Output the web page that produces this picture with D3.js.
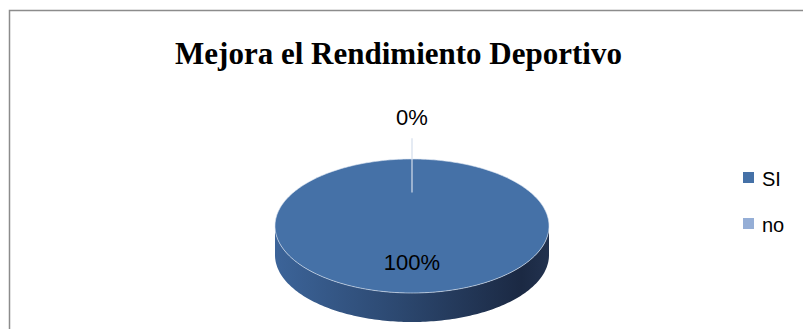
<!DOCTYPE html>
<html>
<head>
<meta charset="utf-8">
<script src="https://cdn.jsdelivr.net/npm/d3@7"></script>
<style>
  html, body { margin: 0; padding: 0; background: #fff; }
  svg { display: block; }
</style>
</head>
<body>
<svg id="chart" width="803" height="329"></svg>
<script>
// Survey answers and their shares (percent)
const categories = ["SI", "no"];
const values = [100, 0];
const sliceColors = ["#4571A7", "#95AED6"];
const titleText = "Mejora el Rendimiento Deportivo";

const svg = d3.select("#chart");
const W = 803, H = 329;

// Chart frame (its right and bottom edges fall outside the window)
svg.append("rect")
  .attr("x", 9.5).attr("y", 10.5)
  .attr("width", W + 20).attr("height", H + 20)
  .attr("fill", "#fff").attr("stroke", "#8c8c8c").attr("stroke-width", 1.5);

// Title
svg.append("text")
  .attr("x", 398.5).attr("y", 64)
  .attr("text-anchor", "middle")
  .attr("font-family", "'Liberation Serif', 'Times New Roman', serif")
  .attr("font-weight", "bold")
  .attr("font-size", 31)
  .attr("fill", "#000")
  .text(titleText);

// 3D pie geometry
const cx = 412, cy = 226, rx = 137, ry = 67, depth = 29;
const pie = d3.pie().sort(null).value(d => d)(values);

const px = a => cx + rx * Math.sin(a);
const py = (a, dy = 0) => cy - ry * Math.cos(a) + dy;

const defs = svg.append("defs");
const grad = defs.append("linearGradient")
  .attr("id", "sideGrad")
  .attr("gradientUnits", "userSpaceOnUse")
  .attr("x1", cx - rx).attr("x2", cx + rx).attr("y1", 0).attr("y2", 0);
grad.append("stop").attr("offset", "0%").attr("stop-color", "#3C6499");
grad.append("stop").attr("offset", "45%").attr("stop-color", "#2C4870");
grad.append("stop").attr("offset", "90%").attr("stop-color", "#1B2943");
grad.append("stop").attr("offset", "100%").attr("stop-color", "#22324F");

function arcPoints(a0, a1, dy = 0) {
  const n = Math.max(2, Math.ceil((a1 - a0) / 0.02));
  const pts = [];
  for (let i = 0; i <= n; i++) {
    const a = a0 + (a1 - a0) * i / n;
    pts.push([px(a), py(a, dy)]);
  }
  return pts;
}

// Side walls: the front half of each slice rim, extruded downward
const g = svg.append("g");
pie.forEach((d, i) => {
  const s = Math.max(d.startAngle, Math.PI / 2);
  const e = Math.min(d.endAngle, 3 * Math.PI / 2);
  if (e <= s) return;
  const top = arcPoints(s, e);
  const bottom = arcPoints(s, e, depth).reverse();
  const pts = top.concat(bottom);
  g.append("path")
    .attr("d", "M" + pts.map(p => p.join(",")).join("L") + "Z")
    .attr("fill", i === 0 ? "url(#sideGrad)" : d3.color(sliceColors[i]).darker(1.2));
});

// Top faces
pie.forEach((d, i) => {
  if (d.endAngle - d.startAngle <= 0) return;
  const full = d.endAngle - d.startAngle >= 2 * Math.PI - 1e-6;
  const pts = arcPoints(d.startAngle, d.endAngle);
  const path = full
    ? "M" + pts.map(p => p.join(",")).join("L") + "Z"
    : "M" + cx + "," + cy + "L" + pts.map(p => p.join(",")).join("L") + "Z";
  g.append("path")
    .attr("d", path)
    .attr("fill", sliceColors[i])
    .attr("stroke", "#dfe8f3").attr("stroke-opacity", 0.6).attr("stroke-width", 1);
});

// Percent labels; an empty slice gets a leader line from its label
pie.forEach((d, i) => {
  const mid = (d.startAngle + d.endAngle) / 2;
  if (d.data === 0) {
    g.append("line")
      .attr("x1", px(mid)).attr("x2", px(mid))
      .attr("y1", cy - ry * 1.31).attr("y2", cy - ry * 0.5)
      .attr("stroke", "#d4deec").attr("stroke-width", 1.2);
    g.append("text")
      .attr("x", px(mid)).attr("y", cy - ry * 1.51)
      .attr("text-anchor", "middle")
      .attr("font-family", "'Liberation Sans', Arial, sans-serif")
      .attr("font-size", 22).attr("fill", "#000")
      .text(d.data + "%");
  } else {
    const full = d.endAngle - d.startAngle >= 2 * Math.PI - 1e-6;
    const lx = full ? cx : cx + rx * 0.6 * Math.sin(mid);
    const ly = full ? cy + ry * 0.66 : cy - ry * 0.6 * Math.cos(mid);
    g.append("text")
      .attr("x", lx).attr("y", ly)
      .attr("text-anchor", "middle")
      .attr("font-family", "'Liberation Sans', Arial, sans-serif")
      .attr("font-size", 22).attr("fill", "#000")
      .text(d.data + "%");
  }
});

// Legend
const legend = svg.append("g").attr("transform", "translate(743,172)");
categories.forEach((c, i) => {
  const row = legend.append("g").attr("transform", `translate(0,${i * 46})`);
  row.append("rect")
    .attr("x", 0).attr("y", 0).attr("width", 11).attr("height", 11)
    .attr("fill", sliceColors[i]);
  row.append("text")
    .attr("x", 19).attr("y", 14)
    .attr("font-family", "'Liberation Sans', Arial, sans-serif")
    .attr("font-size", 20).attr("fill", "#000")
    .text(c);
});
</script>
</body>
</html>
